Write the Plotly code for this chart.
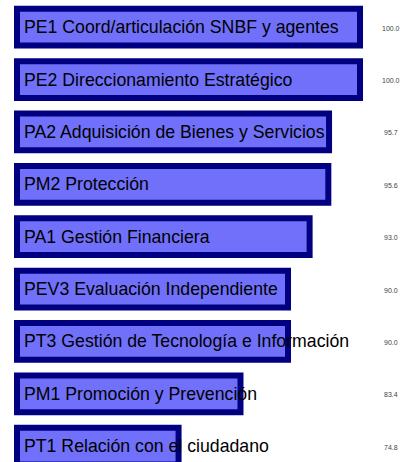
import plotly.graph_objects as go

categories = [
    "PE1 Coord/articulación SNBF y agentes",
    "PE2 Direccionamiento Estratégico",
    "PA2 Adquisición de Bienes y Servicios",
    "PM2 Protección",
    "PA1 Gestión Financiera",
    "PEV3 Evaluación Independiente",
    "PT3 Gestión de Tecnología e Información",
    "PM1 Promoción y Prevención",
    "PT1 Relación con el ciudadano",
]
values = [100.0, 100.0, 95.7, 95.6, 93.0, 90.0, 90.0, 83.4, 74.8]
value_labels = [f"{v:.1f}" for v in values]

base = 0.7 * min(values)
px_per_unit = 7.2
x0 = base - 3 / px_per_unit
x1 = x0 + 395 / px_per_unit

FONT = "Arial, Liberation Sans, sans-serif"

fig = go.Figure()
fig.add_trace(go.Bar(
    y=categories,
    x=[v - base for v in values],
    base=base,
    orientation="h",
    marker=dict(color="rgb(112,112,250)", line=dict(color="#000080", width=6)),
    hoverinfo="skip",
))

for c in categories:
    fig.add_annotation(
        x=base, xref="x", y=c, yref="y", xshift=5,
        text=c, showarrow=False, xanchor="left", yanchor="middle",
        font=dict(family=FONT, size=17.7, color="black"),
    )

for c, lab in zip(categories, value_labels):
    fig.add_annotation(
        x=0.955, xref="paper", y=c, yref="y", yshift=-1,
        text=lab, showarrow=False, xanchor="center", yanchor="middle",
        font=dict(family=FONT, size=7, color="#444"),
    )

fig.update_layout(
    width=409, height=462,
    margin=dict(l=14, r=0, t=1, b=0, pad=0),
    paper_bgcolor="white", plot_bgcolor="white",
    bargap=0.3,
    showlegend=False,
    xaxis=dict(range=[x0, x1], visible=False, fixedrange=True),
    yaxis=dict(range=[-0.5 + 461 / 52.375, -0.5], showticklabels=False,
               showgrid=False, zeroline=False, fixedrange=True),
)

fig.write_html(
    "out.html",
    config={"displayModeBar": False},
    post_script="document.body.style.margin='0';document.body.style.overflow='hidden';",
)
